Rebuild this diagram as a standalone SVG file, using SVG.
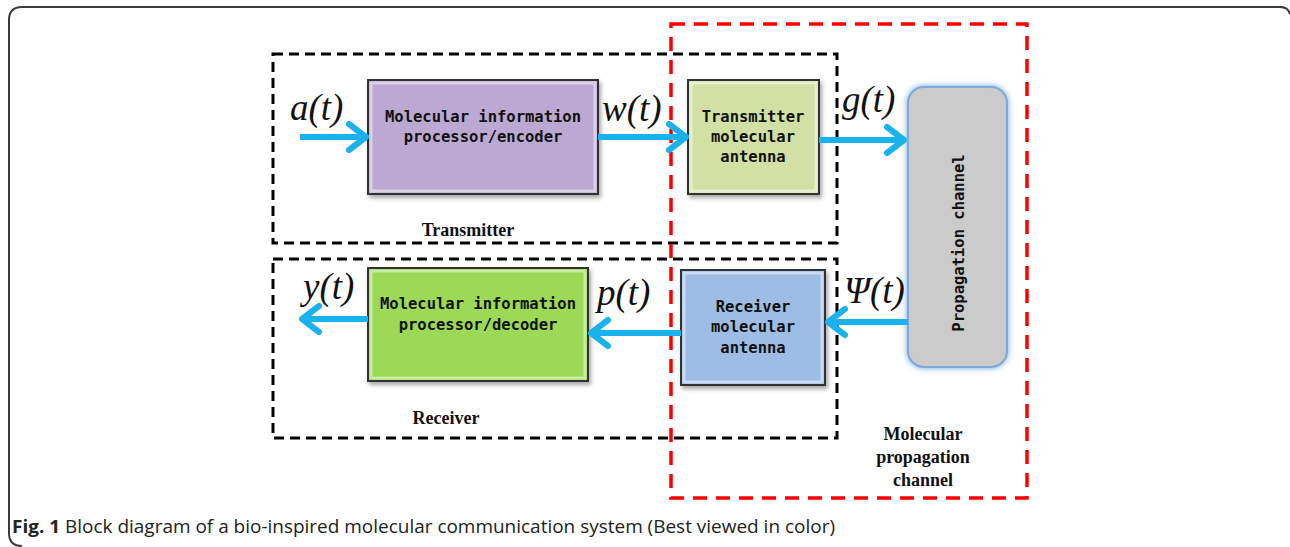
<svg xmlns="http://www.w3.org/2000/svg" width="1290" height="547" viewBox="0 0 1290 547">
<style>
.frame{fill:none;stroke:#3a3a3a;stroke-width:2}
.bdash{fill:none;stroke:#000;stroke-width:3;stroke-dasharray:10 6}
.rdash{fill:none;stroke:#ff0000;stroke-width:3.5;stroke-dasharray:14 9}
.box{stroke:#333;stroke-width:2}
.bev{fill:none;stroke:#ffffff;stroke-opacity:0.45;stroke-width:3}
.mono{font-family:"DejaVu Sans Mono","Liberation Mono",monospace;font-weight:bold;font-size:15.5px;fill:#111;text-anchor:middle}
.sig{font-family:"Liberation Serif","DejaVu Serif",serif;font-style:italic;font-size:37px;fill:#111}
.lbl{font-family:"Liberation Serif","DejaVu Serif",serif;font-weight:bold;font-size:18px;fill:#111;text-anchor:middle}
.arr{fill:none;stroke:#1ab2ec;stroke-width:6;marker-end:url(#ah)}
.cap{font-family:"Open Sans","Liberation Sans",sans-serif;font-size:18px;fill:#222}
</style>
<defs>
<marker id="ah" viewBox="-4 -4 26 34" refX="17" refY="13" markerWidth="26" markerHeight="34" markerUnits="userSpaceOnUse" orient="auto">
<path d="M0,0 L17,13 L0,26" fill="none" stroke="#1ab2ec" stroke-width="6" stroke-linecap="round" stroke-linejoin="round"/>
</marker>
<filter id="sh" x="-10%" y="-10%" width="130%" height="130%">
<feDropShadow dx="2" dy="3" stdDeviation="2" flood-color="#000" flood-opacity="0.35"/>
</filter>
<filter id="glow" x="-20%" y="-10%" width="140%" height="120%">
<feDropShadow dx="0" dy="0" stdDeviation="3" flood-color="#5b9bd5" flood-opacity="0.9"/>
</filter>
</defs>

<path class="frame" d="M22,546 Q9,546 9,533 L9,20 Q9,7 22,7 L1280,7 Q1288,7 1290,14"/>

<g id="containers">
<rect id="transmitter-box" class="bdash" x="273" y="54" width="564" height="189"/>
<rect id="receiver-box" class="bdash" x="273" y="259" width="564" height="179"/>
<rect id="channel-box" class="rdash" x="671" y="24" width="356" height="474"/>
<text class="lbl" x="468" y="236">Transmitter</text>
<text class="lbl" x="446" y="424">Receiver</text>
<text class="lbl" x="923" y="440">Molecular</text>
<text class="lbl" x="923" y="463">propagation</text>
<text class="lbl" x="923" y="486">channel</text>
</g>

<g id="encoder">
<rect class="box" x="368" y="80" width="230" height="114" fill="#bca9d3" filter="url(#sh)"/>
<rect class="bev" x="371" y="83" width="224" height="108"/>
<text class="mono" x="483" y="122">Molecular information</text>
<text class="mono" x="483" y="142">processor/encoder</text>
</g>

<g id="tx-antenna">
<rect class="box" x="688" y="80" width="131" height="114" fill="#d2e0a6" filter="url(#sh)"/>
<rect class="bev" x="691" y="83" width="125" height="108"/>
<text class="mono" x="753" y="122">Transmitter</text>
<text class="mono" x="753" y="142">molecular</text>
<text class="mono" x="753" y="162">antenna</text>
</g>

<g id="propagation-channel">
<rect x="908" y="87" width="99" height="280" rx="16" fill="#cbcbcb" stroke="#7fa9d8" stroke-width="2" filter="url(#glow)"/>
<text class="mono" transform="translate(964,243) rotate(-90)">Propagation channel</text>
</g>

<g id="rx-antenna">
<rect class="box" x="681" y="270" width="144" height="115" fill="#9dbde4" filter="url(#sh)"/>
<rect class="bev" x="684" y="273" width="138" height="109"/>
<text class="mono" x="753" y="312">Receiver</text>
<text class="mono" x="753" y="332">molecular</text>
<text class="mono" x="753" y="353">antenna</text>
</g>

<g id="decoder">
<rect class="box" x="368" y="268" width="220" height="113" fill="#9bd957" filter="url(#sh)"/>
<rect class="bev" x="371" y="271" width="214" height="107"/>
<text class="mono" x="478" y="309">Molecular information</text>
<text class="mono" x="478" y="330">processor/decoder</text>
</g>

<g id="connectors">
<line class="arr" x1="300" y1="137" x2="366" y2="137"/>
<line class="arr" x1="598" y1="137" x2="686" y2="137"/>
<line class="arr" x1="819" y1="140" x2="904" y2="140"/>
<line class="arr" x1="908" y1="322" x2="828" y2="322"/>
<line class="arr" x1="681" y1="333" x2="591" y2="333"/>
<line class="arr" x1="368" y1="319" x2="302" y2="319"/>
<text class="sig" x="290" y="120">a(t)</text>
<text class="sig" x="602" y="121">w(t)</text>
<text class="sig" x="842" y="112">g(t)</text>
<text class="sig" x="844" y="303">Ψ(t)</text>
<text class="sig" x="597" y="305">p(t)</text>
<text class="sig" x="303" y="299">y(t)</text>
</g>

<text class="cap" x="12" y="533" textLength="823" lengthAdjust="spacingAndGlyphs"><tspan font-weight="bold">Fig. 1</tspan> Block diagram of a bio-inspired molecular communication system (Best viewed in color)</text>
</svg>
